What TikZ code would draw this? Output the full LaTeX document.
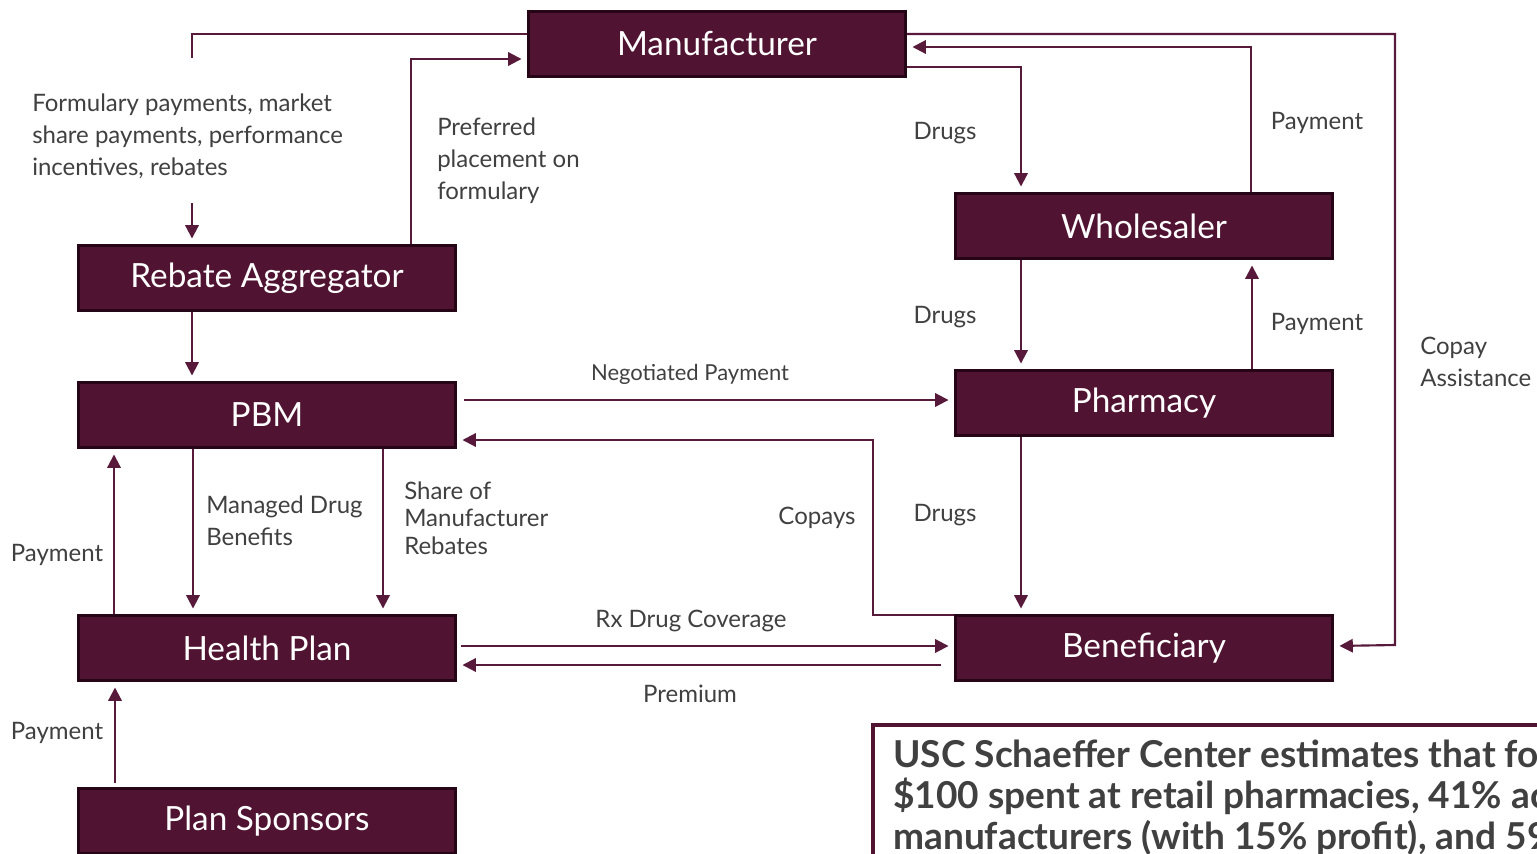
\documentclass[tikz,border=0pt]{standalone}
\usepackage{fontspec}
\setmainfont{Lato}
\usepackage{xcolor}
\usepackage{tikz}
\usetikzlibrary{arrows.meta,positioning}
\definecolor{RxMaroon}{RGB}{80,20,50}
\definecolor{RxEdge}{RGB}{38,6,22}
\definecolor{RxLine}{RGB}{88,26,58}
\definecolor{RxText}{RGB}{64,64,64}
\tikzset{
  party/.style={draw=RxEdge,fill=RxMaroon,line width=2.2pt,text=white,
    minimum width=283pt,minimum height=49pt,inner sep=0pt,font=\fontsize{25}{30}\selectfont},
  lbl/.style={text=RxText,inner sep=0pt,font=\fontsize{18}{24}\selectfont},
  smalllbl/.style={text=RxText,inner sep=0pt,font=\fontsize{16.5}{20}\selectfont},
  notetext/.style={inner sep=0pt,align=left,text=RxText,font=\bfseries\fontsize{27.8}{30.75}\selectfont},
  link/.style={draw=RxLine,line width=1.6pt},
  flow/.style={link,-{Triangle[length=10pt,width=10pt]},shorten >=4pt},
}
\begin{document}
\begin{tikzpicture}[x=0.75pt,y=-0.75pt]
        \useasboundingbox (0,0) rectangle (1537,853);
        \clip (0,0) rectangle (1537,853);
        % parties
        \node[party] (Manufacturer) at (717,44) {Manufacturer};
        \node[party] (Wholesaler) at (1144,226) {Wholesaler};
        \node[party] (RebateAgg) at (267,278) {Rebate Aggregator};
        \node[party] (PBM) at (267,415) {PBM};
        \node[party] (Pharmacy) at (1144,403) {Pharmacy};
        \node[party] (HealthPlan) at (267,648) {Health Plan};
        \node[party] (Beneficiary) at (1144,648) {Beneficiary};
        \node[party] (Sponsors) at (267,821) {Plan Sponsors};
        % labels
        \node[lbl,anchor=west,align=left] (formulary) at (32,136)
          {Formulary payments, market\\share payments, performance\\incentives, rebates};
        \node[lbl,anchor=west,align=left] (placement) at (437,161)
          {Preferred\\placement on\\formulary};
        \node[lbl] (drugsA) at (945,133) {Drugs};
        \node[lbl] (drugsB) at (945,317) {Drugs};
        \node[lbl] (drugsC) at (945,515) {Drugs};
        \node[lbl] (payWhole) at (1317,123) {Payment};
        \node[lbl] (payPharm) at (1317,324) {Payment};
        \node[lbl,anchor=west,align=left] (copayAssist) at (1420,362) {Copay\\Assistance};
        \node[smalllbl] (negotiated) at (690,374) {Negotiated Payment};
        \node[lbl] (copays) at (817,518) {Copays};
        \node[lbl,anchor=west,align=left] (managed) at (206,521) {Managed Drug\\Benefits};
        \node[smalllbl,anchor=west,align=left,font=\fontsize{18}{20.5}\selectfont] (share) at (404,518)
          {Share of\\Manufacturer\\Rebates};
        \node[lbl] (payPBM) at (57,555) {Payment};
        \node[lbl] (payPlan) at (57,733) {Payment};
        \node[lbl] (coverage) at (691,621) {Rx Drug Coverage};
        \node[lbl] (premium) at (690,694) {Premium};
        % note box
        \node[notetext,anchor=north west] (note) at (893,740)
          {USC Schaeffer Center estimates that for\\
           \$100 spent at retail pharmacies, 41\% accrues\\
           manufacturers (with 15\% profit), and 59\%};
        \draw[draw=RxMaroon,line width=3pt] (1600,725) -| (873,900);
        % connectors
        \coordinate (fpTop) at (192,58);
        \coordinate (fpBot) at (192,203);
        \draw[link] (Manufacturer.west |- 0,34) -| (fpTop);
        \draw[flow] (fpBot) -- (RebateAgg.north -| fpBot);
        \draw[flow] (RebateAgg.north -| 411,0) |- (Manufacturer.west |- 0,59);
        \draw[flow] (Manufacturer.east |- 0,67) -| (Wholesaler.north -| 1021,0);
        \draw[flow] (Wholesaler.north -| 1251,0) |- (Manufacturer.east |- 0,47);
        \draw[flow] (Manufacturer.east |- 0,34) -| (1395,645) -- (Beneficiary.east |- 0,646);
        \draw[flow] (Wholesaler.south -| 1021,0) -- (Pharmacy.north -| 1021,0);
        \draw[flow] (Pharmacy.north -| 1252,0) -- (Wholesaler.south -| 1252,0);
        \draw[flow] (Pharmacy.south -| 1021,0) -- (Beneficiary.north -| 1021,0);
        \draw[flow] (Beneficiary.west |- 0,615) -| (873,440) -- (PBM.east |- 0,440);
        \draw[flow,shorten <=5pt] (PBM.east |- 0,400) -- (Pharmacy.west |- 0,400);
        \draw[flow] (RebateAgg.south -| 192,0) -- (PBM.north -| 192,0);
        \draw[flow] (PBM.south -| 193,0) -- (HealthPlan.north -| 193,0);
        \draw[flow] (PBM.south -| 383,0) -- (HealthPlan.north -| 383,0);
        \draw[flow] (HealthPlan.north -| 114,0) -- (PBM.south -| 114,0);
        \draw[flow,shorten <=3pt] (HealthPlan.east |- 0,646) -- (Beneficiary.west |- 0,646);
        \draw[flow,shorten <=10pt] (Beneficiary.west |- 0,665) -- (HealthPlan.east |- 0,665);
        \draw[flow,shorten <=3pt] (Sponsors.north -| 115,0) -- (HealthPlan.south -| 115,0);
      \end{tikzpicture}
\end{document}
